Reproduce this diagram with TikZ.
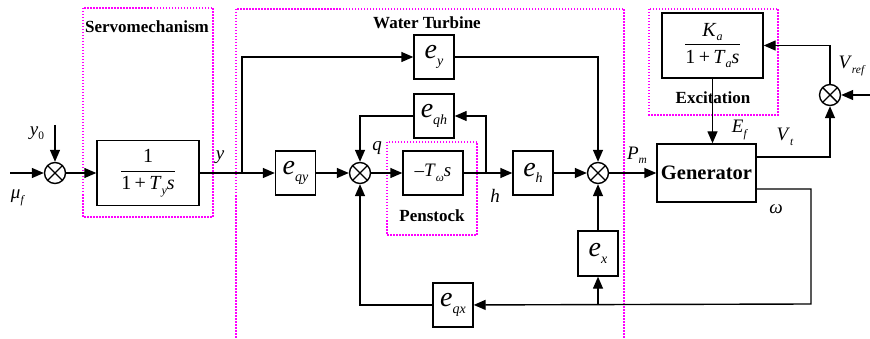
\RequirePackage{fix-cm}
\documentclass[tikz,border=0pt]{standalone}
\usepackage{amsmath}
\usepackage{graphicx}
\usepackage{fontspec}
\setmainfont{Liberation Serif}
\usetikzlibrary{arrows.meta,calc}
\definecolor{grpmag}{RGB}{255,0,255}
\newcommand{\sig}[3][0.6]{\textit{#2}\raisebox{-0.5ex}{\scalebox{#1}{\textit{#3}}}}

\begin{document}
\begin{tikzpicture}[x=1pt, y=-1pt,
    blk/.style={draw, line width=1.4pt, fill=white, inner sep=0pt,
                minimum width=40pt, minimum height=44pt,
                font=\fontsize{28}{30}\selectfont},
    sumnode/.style={circle, draw, line width=1.4pt, fill=white,
                minimum size=21pt, inner sep=0pt,
                path picture={\draw[line width=1.4pt]
                  (path picture bounding box.north west) -- (path picture bounding box.south east)
                  (path picture bounding box.north east) -- (path picture bounding box.south west);}},
    arr/.style={-{Triangle[length=12pt,width=10pt]}, line width=1.4pt},
    grp/.style={draw=grpmag, line width=1.2pt, dash pattern=on 1.5pt off 1.5pt},
    ttl/.style={font=\fontsize{17}{20}\selectfont\bfseries},
    lbl/.style={font=\fontsize{19}{22}\selectfont}]
  \useasboundingbox (0,0) rectangle (870,339);
  %% Dotted groups
  \draw[grp] (83,8) rectangle (213,217);
  \draw[grp] (236,9) rectangle (624,350);
  \draw[grp] (387,142) rectangle (477,235);
  \draw[grp] (649,9) rectangle (778,115);
  \node[ttl] at (147,27) {Servomechanism};
  \node[ttl] at (427,23) {Water Turbine};
  \node[ttl] at (432,216) {Penstock};
  \node[ttl] at (713,98) {Excitation};
  %% Servomechanism
  \node[sumnode] (smu) at (55,173) {};
  \node[blk, minimum width=102pt, minimum height=65pt, font=\fontsize{20}{23}\selectfont]
    (servo) at (148,173) {$\dfrac{\text{1}}{\text{1\,+\,\sig{T}{y}\textit{s}}}$};
  %% Water turbine
  \node[blk] (eqy) at (295.5,173) {\sig[0.5]{e}{qy}};
  \node[sumnode] (sq) at (360,173) {};
  \node[blk, minimum width=60pt, font=\fontsize{19}{22}\selectfont]
    (pen) at (433,173) {–\sig{T}{ω}\textit{s}};
  \node[blk] (eh) at (533,173) {\sig[0.5]{e}{h}};
  \node[sumnode] (sp) at (598,173) {};
  \node[blk] (ey)  at (434,57)  {\sig[0.5]{e}{y}};
  \node[blk] (eqh) at (434,116) {\sig[0.5]{e}{qh}};
  \node[blk, minimum height=45pt] (ex) at (598,253.5) {\sig[0.5]{e}{x}};
  \node[blk] (eqx) at (453,305) {\sig[0.5]{e}{qx}};
  %% Generator and excitation
  \node[blk, minimum width=99pt, minimum height=58pt, font=\fontsize{20.5}{24}\selectfont\bfseries]
    (gen) at (706.5,173) {Generator};
  \node[blk, minimum width=101pt, minimum height=65pt, font=\fontsize{20}{23}\selectfont]
    (exc) at (712.5,45.5) {$\dfrac{\text{\sig{K}{a}}}{\text{1\,+\,\sig{T}{a}\textit{s}}}$};
  \node[sumnode] (sv) at (830,95) {};
  %% Free ends and branch points
  \coordinate (in)   at (10,173);
  \coordinate (y0)   at (55,125);
  \coordinate (by)   at (242,173);
  \coordinate (bh)   at (486,173);
  \coordinate (vref) at (875,95);
  \coordinate (bw)   at (811,304);
  \coordinate (bx)   at (598,304);
  %% Forward path
  \draw[arr] (in) -- (smu);
  \draw[arr] (y0) -- (smu);
  \foreach \a/\b in {smu/servo,servo/eqy,eqy/sq,sq/pen,pen/eh,eh/sp,sp/gen,ex/sp}
    \draw[arr] (\a) -- (\b);
  \draw[arr] (by) |- (ey);
  \draw[arr] (ey) -| (sp);
  \draw[arr] (bh) |- (eqh);
  \draw[arr] (eqh) -| (sq);
  %% Voltage loop
  \draw[arr] ([yshift=16pt]gen.east) -| (sv);
  \draw[arr] (vref) -- (sv);
  \draw[arr] (sv) |- (exc);
  \draw[arr] (exc.south) -- (exc.south |- gen.north);
  %% Speed feedback
  \draw[arr] ([yshift=-16pt]gen.east) -| (bw) -- (eqx);
  \draw[arr] (bx) -- (ex);
  \draw[arr] (eqx) -| (sq);
  %% Signal labels
  \node[lbl] at (37,133) {\textit{y}\raisebox{-0.45ex}{\scalebox{0.6}{0}}};
  \node[lbl] at (18,198) {\sig{μ}{f}};
  \node[lbl] at (220,157) {\textit{y}};
  \node[lbl] at (377,148) {\textit{q}};
  \node[lbl] at (495,196) {\textit{h}};
  \node[lbl] at (637,155) {\sig{P}{m}};
  \node[lbl] at (740,130) {\sig{E}{f}};
  \node[lbl] at (785,137) {\sig{V}{t}};
  \node[lbl, anchor=west] at (835,66) {\sig{V}{ref}};
  \node[lbl] at (776,209) {\textit{ω}};
\end{tikzpicture}
\end{document}
